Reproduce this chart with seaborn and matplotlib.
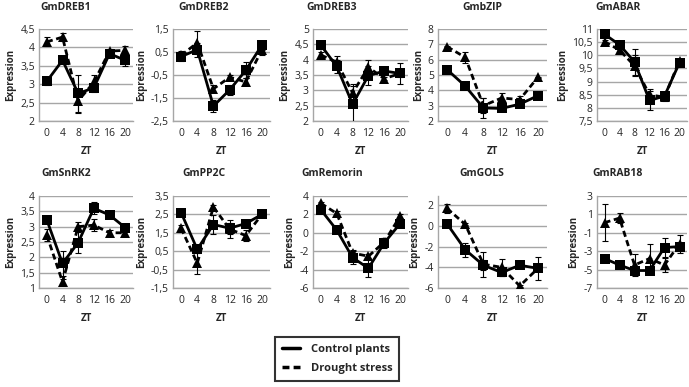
import matplotlib
matplotlib.use("Agg")
import matplotlib.pyplot as plt
import pandas as pd
import seaborn as sns
from matplotlib.lines import Line2D

ZT = [0, 4, 8, 12, 16, 20]
GENES = ["GmDREB1", "GmDREB2", "GmDREB3", "GmbZIP", "GmABAR",
         "GmSnRK2", "GmPP2C", "GmRemorin", "GmGOLS", "GmRAB18"]

CTRL = [
    [3.08, 3.65, 2.75, 2.9, 3.83, 3.65],
    [0.3, 0.6, -1.85, -1.15, -0.3, 0.8],
    [4.47, 3.78, 2.55, 3.48, 3.63, 3.55],
    [5.35, 4.28, 2.85, 2.82, 3.1, 3.65],
    [10.8, 10.4, 9.75, 8.28, 8.45, 9.72],
    [3.22, 1.8, 2.48, 3.6, 3.38, 2.97],
    [2.6, 0.6, 1.95, 1.75, 2.0, 2.5],
    [2.5, 0.3, -2.7, -3.85, -1.1, 1.0],
    [0.2, -2.3, -3.8, -4.5, -3.8, -4.1],
    [-3.8, -4.5, -5.1, -5.1, -2.6, -2.5],
]
CTRL_ERR = [
    [0.1, 0.05, 0.5, 0.1, 0.05, 0.15],
    [0.2, 0.3, 0.25, 0.2, 0.35, 0.2],
    [0.05, 0.2, 0.6, 0.3, 0.05, 0.33],
    [0.25, 0.1, 0.65, 0.05, 0.1, 0.05],
    [0.05, 0.1, 0.5, 0.35, 0.1, 0.1],
    [0.05, 0.4, 0.35, 0.2, 0.05, 0.05],
    [0.05, 0.2, 0.5, 0.3, 0.1, 0.05],
    [0.2, 0.1, 0.7, 1.0, 0.5, 0.2],
    [0.1, 0.7, 0.5, 0.3, 0.3, 0.3],
    [0.4, 0.1, 0.2, 0.1, 1.0, 0.3],
]
DROUGHT = [
    [4.15, 4.28, 2.55, 3.05, 3.9, 3.92],
    [0.35, 0.9, -1.1, -0.6, -0.8, 0.6],
    [4.15, 3.92, 2.92, 3.75, 3.38, 3.55],
    [6.85, 6.15, 3.0, 3.5, 3.4, 4.85],
    [10.52, 10.2, 9.6, 8.5, 8.4, 9.8],
    [2.72, 1.2, 3.0, 3.05, 2.8, 2.8],
    [1.75, -0.15, 2.9, 1.7, 1.35, 2.5],
    [3.2, 2.1, -2.2, -2.55, -1.0, 1.8],
    [1.7, 0.15, -3.7, -4.0, -5.8, -4.1],
    [0.1, 0.6, -4.5, -3.8, -4.5, -2.2],
]
DROUGHT_ERR = [
    [0.12, 0.1, 0.33, 0.2, 0.05, 0.12],
    [0.2, 0.5, 0.15, 0.1, 0.15, 0.25],
    [0.1, 0.2, 0.3, 0.25, 0.05, 0.1],
    [0.05, 0.35, 0.5, 0.3, 0.2, 0.05],
    [0.05, 0.1, 0.4, 0.2, 0.15, 0.05],
    [0.2, 0.1, 0.15, 0.2, 0.1, 0.1],
    [0.2, 0.6, 0.1, 0.5, 0.3, 0.1],
    [0.2, 0.3, 0.3, 0.2, 0.4, 0.2],
    [0.4, 0.1, 1.2, 0.8, 0.1, 1.1],
    [2.0, 0.5, 1.2, 1.6, 0.8, 1.0],
]
# y axis: first tick, last tick, step, axis top
Y_LO = [2, -2.5, 2, 2, 7.5, 1, -1.5, -6, -6, -7]
Y_HI = [4.5, 1.5, 5, 8, 11, 4, 3.5, 4, 2, 3]
Y_STEP = [0.5, 1, 0.5, 1, 0.5, 0.5, 1, 2, 2, 2]
Y_TOP = [4.5, 1.5, 5, 8, 11, 4, 3.5, 4, 2.9, 3]

CONDS = ["Control plants", "Drought stress"]

# layout in pixels (figure is 689 x 387)
W, H = 689, 387
COL_L = [39, 173, 313, 438, 597]
COL_R = [133, 270, 408, 547, 687]
ROW_T = [29, 196]
ROW_B = [121, 288]
TITLE_X = [66, 204, 332, 482, 618]
TITLE_Y = [8, 174]


def fmt(v):
    return f"{v:g}".replace(".", ",")


sns.set_style("white")
plt.rcParams["font.family"] = ["Open Sans", "DejaVu Sans"]
GRID = "#a6a6a6"
TXT = "#262626"

fig = plt.figure(figsize=(W / 100, H / 100), dpi=100)

for i, gene in enumerate(GENES):
    r, c = divmod(i, 5)
    ax = fig.add_axes([COL_L[c] / W, 1 - ROW_B[r] / H,
                       (COL_R[c] - COL_L[c]) / W, (ROW_B[r] - ROW_T[r]) / H])
    df = pd.DataFrame({
        "ZT": ZT * 2,
        "expr": CTRL[i] + DROUGHT[i],
        "cond": [CONDS[0]] * 6 + [CONDS[1]] * 6,
    })
    ax.errorbar(ZT, CTRL[i], yerr=CTRL_ERR[i], fmt="none", ecolor="black",
                elinewidth=0.8, capsize=2.2, capthick=0.8, zorder=3)
    ax.errorbar(ZT, DROUGHT[i], yerr=DROUGHT_ERR[i], fmt="none", ecolor="black",
                elinewidth=0.8, capsize=2.2, capthick=0.8, zorder=3)
    sns.lineplot(data=df, x="ZT", y="expr", hue="cond", style="cond",
                 palette={CONDS[0]: "black", CONDS[1]: "black"},
                 markers={CONDS[0]: "s", CONDS[1]: "^"},
                 dashes={CONDS[0]: "", CONDS[1]: (2.2, 1.3)},
                 markersize=6.5, markeredgewidth=0, lw=2, legend=False,
                 ax=ax, zorder=4)
    ticks = []
    v = Y_LO[i]
    while v <= Y_HI[i] + 1e-9:
        ticks.append(round(v, 2))
        v += Y_STEP[i]
    ax.set_ylim(Y_LO[i], Y_TOP[i])
    ax.set_yticks(ticks)
    ax.set_yticklabels([fmt(t) for t in ticks])
    ax.set_xlim(-2, 22)
    ax.set_xticks(ZT)
    for t in ticks:
        ax.axhline(t, color=GRID, lw=1, zorder=1)
    for side in ("top", "right"):
        ax.spines[side].set_visible(False)
    for side in ("left", "bottom"):
        ax.spines[side].set_color(GRID)
        ax.spines[side].set_linewidth(1)
    ax.tick_params(length=0, labelsize=7.5, pad=3, colors=TXT)
    ax.tick_params(axis="x", pad=5)
    ax.set_xlabel("ZT", fontsize=7, fontweight="bold", labelpad=5, color=TXT)
    ax.set_ylabel("Expression", fontsize=7, fontweight="bold", labelpad=3, color=TXT)
    fig.text(TITLE_X[c] / W, 1 - TITLE_Y[r] / H, gene, ha="center", va="center",
             fontsize=7.5, fontweight="bold", color=TXT)

handles = [Line2D([], [], color="black", lw=2.5),
           Line2D([], [], color="black", lw=2.5, ls=(0, (2, 1.2)))]
leg = fig.legend(handles, CONDS, loc="center", bbox_to_anchor=(337 / W, 1 - 359 / H),
                 frameon=True, fancybox=False, edgecolor="black", fontsize=8,
                 handlelength=1.6, borderpad=0.6, labelspacing=0.7, handletextpad=1.0)
leg.get_frame().set_linewidth(1.5)
for t in leg.get_texts():
    t.set_fontweight("bold")
    t.set_color(TXT)

fig.savefig("out.png", dpi=100)
